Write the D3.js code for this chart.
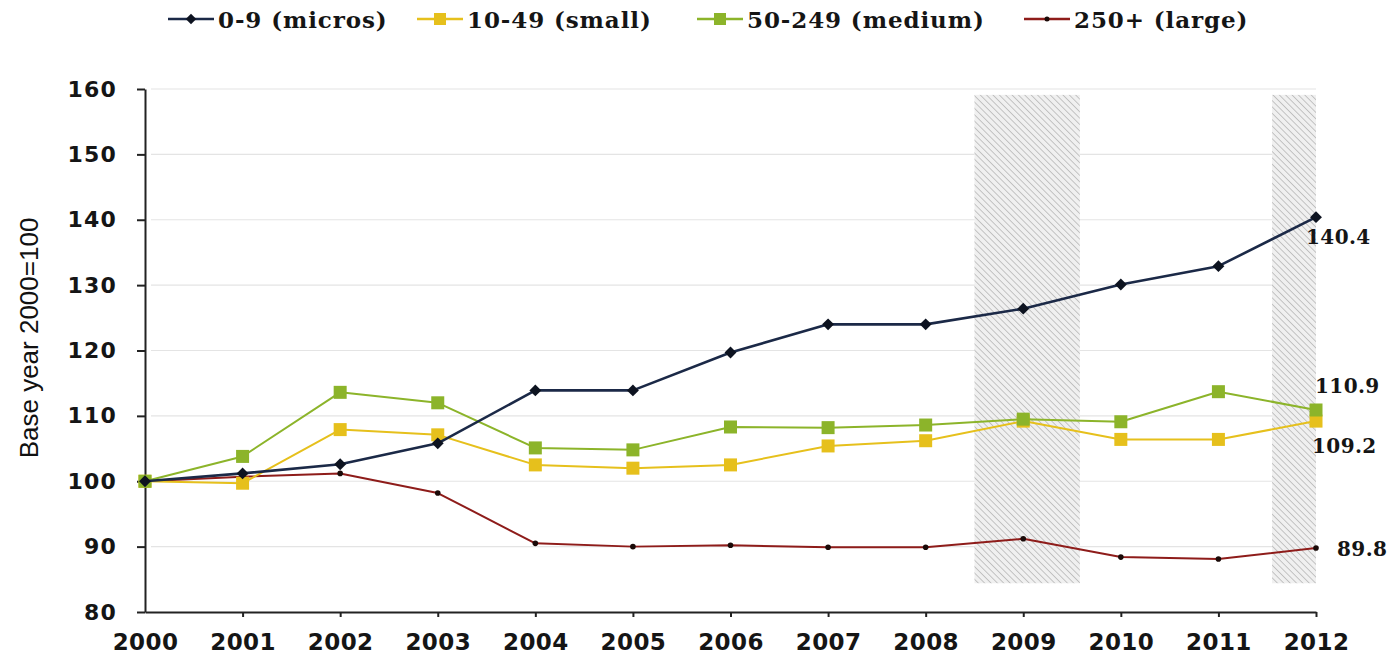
<!DOCTYPE html>
<html>
<head>
<meta charset="utf-8">
<script src="https://cdn.jsdelivr.net/npm/d3@7"></script>
<style>
  html, body { margin: 0; padding: 0; background: #fff; }
  svg { display: block; }
</style>
</head>
<body>
<svg id="chart" width="1389" height="656"></svg>
<script>
// Employment index by enterprise size class, base year 2000 = 100
const years = [2000, 2001, 2002, 2003, 2004, 2005, 2006, 2007, 2008, 2009, 2010, 2011, 2012];
const micros = [100, 101.2, 102.6, 105.8, 113.9, 113.9, 119.7, 124.0, 124.0, 126.4, 130.1, 132.9, 140.4];
const small  = [100, 99.7, 107.9, 107.1, 102.5, 102.0, 102.5, 105.4, 106.2, 109.2, 106.4, 106.4, 109.2];
const medium = [100, 103.8, 113.6, 112.0, 105.1, 104.8, 108.3, 108.2, 108.6, 109.5, 109.1, 113.7, 110.9];
const large  = [100, 100.7, 101.2, 98.2, 90.5, 90.0, 90.2, 89.9, 89.9, 91.2, 88.4, 88.1, 89.8];
const seriesNames = ["0-9 (micros)", "10-49 (small)", "50-249 (medium)", "250+ (large)"];
const yTicks = [80, 90, 100, 110, 120, 130, 140, 150, 160];
// Recession periods shaded behind the lines (start year, end year)
const recessions = [[2008.5, 2009.58], [2011.55, 2012]];
const recessionRange = [84.4, 159.1];

const series = [
  { name: seriesNames[3], values: large,  color: "#8e1c1a", marker: "dot",     width: 2 },
  { name: seriesNames[1], values: small,  color: "#e6c01c", marker: "square",  width: 2 },
  { name: seriesNames[2], values: medium, color: "#8cb42a", marker: "square",  width: 2 },
  { name: seriesNames[0], values: micros, color: "#1b2947", marker: "diamond", width: 2.6 }
];

const svg = d3.select("#chart");
const x = d3.scaleLinear().domain([2000, 2012]).range([145, 1316]);
const y = d3.scaleLinear().domain([80, 160]).range([612, 89]);

// hatch pattern for shaded periods
const defs = svg.append("defs");
const pat = defs.append("pattern")
  .attr("id", "hatch").attr("patternUnits", "userSpaceOnUse")
  .attr("width", 4.5).attr("height", 4.5)
  .attr("patternTransform", "rotate(-45)");
pat.append("rect").attr("width", 4.5).attr("height", 4.5).attr("fill", "#f0f0f0");
pat.append("line").attr("x1", 0).attr("y1", 0).attr("x2", 0).attr("y2", 4.5)
  .attr("stroke", "#b4b4b4").attr("stroke-width", 1.5);

// gridlines
svg.append("g").selectAll("line").data(yTicks.slice(1)).join("line")
  .attr("x1", x(2000) + 6).attr("x2", x(2012))
  .attr("y1", d => y(d)).attr("y2", d => y(d))
  .attr("stroke", "#e4e4e4").attr("stroke-width", 1.2);

// shaded bands
svg.append("g").selectAll("rect").data(recessions).join("rect")
  .attr("x", d => x(d[0])).attr("width", d => x(d[1]) - x(d[0]))
  .attr("y", y(recessionRange[1])).attr("height", y(recessionRange[0]) - y(recessionRange[1]))
  .attr("fill", "url(#hatch)");

// axes
const tickFont = "'DejaVu Sans', sans-serif";
const yAxis = svg.append("g").attr("transform", `translate(${x(2000)},0)`)
  .call(d3.axisLeft(y).tickValues(yTicks).tickSize(8).tickSizeOuter(0).tickPadding(20));
const xAxis = svg.append("g").attr("transform", `translate(0,${y(80)})`)
  .call(d3.axisBottom(x).tickValues(years).tickFormat(d3.format("d")).tickSize(5).tickSizeOuter(0).tickPadding(17));
[yAxis, xAxis].forEach(g => {
  g.select(".domain").attr("stroke", "#222").attr("stroke-width", 2);
  g.selectAll(".tick line").attr("stroke", "#222").attr("stroke-width", 2);
  g.selectAll(".tick text")
    .attr("font-family", tickFont).attr("font-weight", "bold")
    .attr("fill", "#151515");
});
yAxis.selectAll(".tick text").attr("font-size", 22).attr("letter-spacing", 1.2);
xAxis.selectAll(".tick text").attr("font-size", 23).attr("letter-spacing", 0.4);
xAxis.select(".tick:first-of-type line").remove();

// y axis title
svg.append("text")
  .attr("transform", `translate(38,338) rotate(-90)`)
  .attr("text-anchor", "middle")
  .attr("font-family", "'Liberation Sans Narrow', 'Liberation Sans', sans-serif")
  .attr("font-size", 26).attr("fill", "#111")
  .text("Base year 2000=100");

// lines and markers
const line = d3.line().x((d, i) => x(years[i])).y(d => y(d));
function drawMarker(g, type, color, cx, cy) {
  if (type === "square") {
    g.append("rect").attr("x", cx - 6.5).attr("y", cy - 6.5).attr("width", 13).attr("height", 13)
      .attr("fill", color);
  } else if (type === "diamond") {
    g.append("path").attr("d", d3.symbol(d3.symbolDiamond2, 90)())
      .attr("transform", `translate(${cx},${cy})`).attr("fill", "#0d1320");
  } else {
    g.append("circle").attr("cx", cx).attr("cy", cy).attr("r", 2.8).attr("fill", "#1a0a08");
  }
}
series.forEach(s => {
  const g = svg.append("g");
  g.append("path").datum(s.values).attr("d", line)
    .attr("fill", "none").attr("stroke", s.color).attr("stroke-width", s.width)
    .attr("stroke-linejoin", "round");
  s.values.forEach((v, i) => drawMarker(g, s.marker, s.color, x(years[i]), y(v)));
});

// end-of-series value labels
const labelFont = "'DejaVu Serif', serif";
const lastIdx = years.length - 1;
const endLabels = [
  { v: micros[lastIdx], dx: -10, dy: 27 },
  { v: medium[lastIdx], dx: -1,  dy: -17 },
  { v: small[lastIdx],  dx: -4,  dy: 32 },
  { v: large[lastIdx],  dx: 21,  dy: 8 }
];
svg.append("g").selectAll("text").data(endLabels).join("text")
  .attr("x", d => x(2012) + d.dx)
  .attr("y", d => y(d.v) + d.dy)
  .attr("font-family", labelFont).attr("font-size", 20).attr("font-weight", "bold")
  .attr("letter-spacing", 0.4).attr("fill", "#151515")
  .text(d => d3.format(".1f")(d.v));

// legend
const legendX = [168, 417, 697, 1024];
const legendOrder = [3, 1, 2, 0].map(i => series[i]);
const leg = svg.append("g").attr("transform", "translate(0,19)");
legendOrder.forEach((s, i) => {
  const g = leg.append("g").attr("transform", `translate(${legendX[i]},0)`);
  g.append("line").attr("x1", 0).attr("x2", 46).attr("y1", 0).attr("y2", 0)
    .attr("stroke", s.color).attr("stroke-width", 2.5);
  if (s.marker === "square") {
    g.append("rect").attr("x", 17).attr("y", -6).attr("width", 12).attr("height", 12).attr("fill", s.color);
  } else if (s.marker === "diamond") {
    g.append("path").attr("d", d3.symbol(d3.symbolDiamond2, 70)())
      .attr("transform", "translate(23,0)").attr("fill", "#0d1320");
  } else {
    g.append("circle").attr("cx", 23).attr("cy", 0).attr("r", 2.5).attr("fill", "#1a0a08");
  }
  g.append("text").attr("x", 50).attr("y", 9)
    .attr("font-family", labelFont).attr("font-size", 23).attr("font-weight", "bold")
    .attr("letter-spacing", 0.9).attr("fill", "#151515")
    .text(s.name);
});
</script>
</body>
</html>
